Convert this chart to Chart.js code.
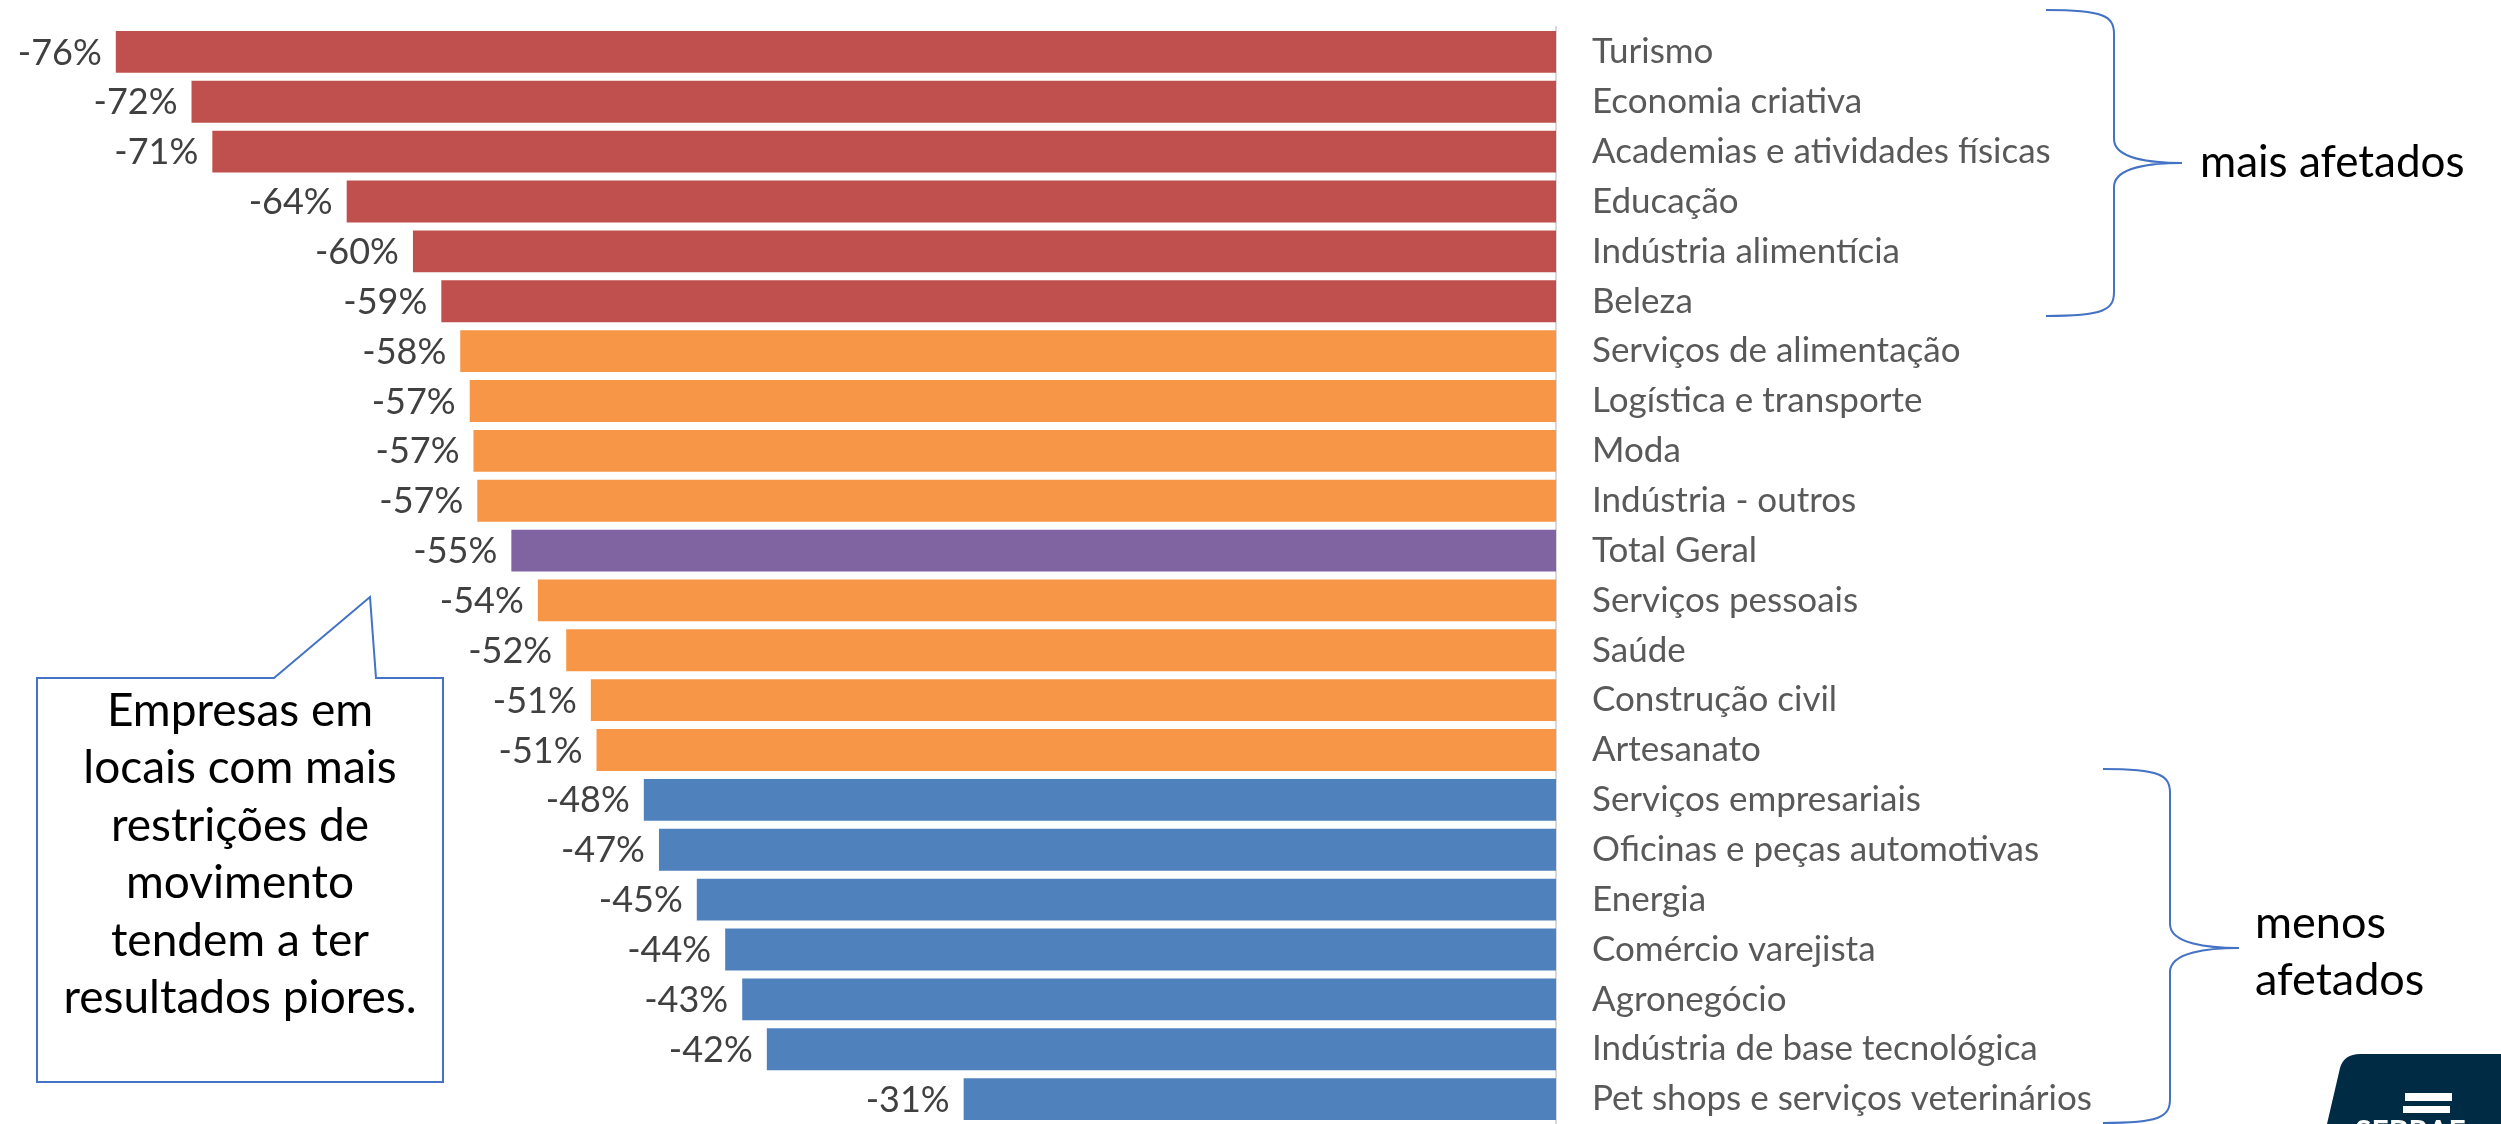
<!DOCTYPE html>
<html>
<head>
<meta charset="utf-8">
<title>Impacto por setor</title>
<script src="https://cdn.jsdelivr.net/npm/chart.js@4"></script>
<style>
  body { margin: 0; background: #fff; overflow: hidden; }
  canvas { display: block; }
</style>
</head>
<body>
<canvas id="chart" width="2501" height="1124"></canvas>
<script>
// Sectors, top to bottom
const setores = [
  'Turismo', 'Economia criativa', 'Academias e atividades físicas', 'Educação',
  'Indústria alimentícia', 'Beleza', 'Serviços de alimentação', 'Logística e transporte',
  'Moda', 'Indústria - outros', 'Total Geral', 'Serviços pessoais', 'Saúde',
  'Construção civil', 'Artesanato', 'Serviços empresariais', 'Oficinas e peças automotivas',
  'Energia', 'Comércio varejista', 'Agronegócio', 'Indústria de base tecnológica',
  'Pet shops e serviços veterinários'
];

// Variation in revenue (%)
const variacao = [
  -76.1, -72.1, -71.0, -63.9, -60.4, -58.9, -57.9, -57.4, -57.2, -57.0, -55.2,
  -53.8, -52.3, -51.0, -50.7, -48.2, -47.4, -45.4, -43.9, -43.0, -41.7, -31.3
];

// Group of each bar (drives the colour)
const grupos = [
  'mais', 'mais', 'mais', 'mais', 'mais', 'mais', 'medio', 'medio', 'medio', 'medio', 'total',
  'medio', 'medio', 'medio', 'medio', 'menos', 'menos', 'menos', 'menos', 'menos', 'menos', 'menos'
];

const coresGrupo = { mais: '#C0504D', medio: '#F79646', total: '#8064A2', menos: '#4F81BD' };

const textoCaixa = ['Empresas em', 'locais com mais', 'restrições de', 'movimento', 'tendem a ter', 'resultados piores.'];

const FONT = 'Lato, "Open Sans", sans-serif';

function drawBrace(ctx, xTip, xLine, xPoint, yTop, yMid, yBot) {
  const r = 24;
  ctx.beginPath();
  ctx.moveTo(xTip, yTop);
  ctx.bezierCurveTo(xLine - 10, yTop, xLine, yTop + 6, xLine, yTop + r);
  ctx.lineTo(xLine, yMid - r);
  ctx.bezierCurveTo(xLine, yMid - 4, xPoint - 30, yMid, xPoint, yMid);
  ctx.bezierCurveTo(xPoint - 30, yMid, xLine, yMid + 4, xLine, yMid + r);
  ctx.lineTo(xLine, yBot - r);
  ctx.bezierCurveTo(xLine, yBot - 6, xLine - 10, yBot, xTip, yBot);
  ctx.stroke();
}

// Value labels, braces and callout drawn on top of the bars
const anotacoes = {
  id: 'anotacoes',
  afterDraw(chart) {
    const ctx = chart.ctx;
    const meta = chart.getDatasetMeta(0);
    ctx.save();

    // value labels
    ctx.font = '36px ' + FONT;
    ctx.fillStyle = '#404040';
    ctx.textAlign = 'right';
    ctx.textBaseline = 'middle';
    meta.data.forEach((bar, i) => {
      ctx.fillText(Math.round(variacao[i]) + '%', bar.x - 14, bar.y + 1);
    });

    // braces
    ctx.strokeStyle = '#4472C4';
    ctx.lineWidth = 2;
    drawBrace(ctx, 2046, 2114, 2182, 10, 163, 316);
    drawBrace(ctx, 2103, 2170, 2239, 769, 948, 1123);

    ctx.fillStyle = '#000';
    ctx.textAlign = 'left';
    ctx.font = '44px ' + FONT;
    ctx.fillText('mais afetados', 2200, 163);
    ctx.font = '45px ' + FONT;
    ctx.fillText('menos', 2255, 923);
    ctx.fillText('afetados', 2255, 980);

    // callout box
    ctx.beginPath();
    ctx.moveTo(37, 678);
    ctx.lineTo(274, 678);
    ctx.lineTo(370, 597);
    ctx.lineTo(376, 678);
    ctx.lineTo(443, 678);
    ctx.lineTo(443, 1082);
    ctx.lineTo(37, 1082);
    ctx.closePath();
    ctx.fillStyle = '#fff';
    ctx.fill();
    ctx.stroke();

    ctx.fillStyle = '#000';
    ctx.textAlign = 'center';
    ctx.font = '46px ' + FONT;
    textoCaixa.forEach((linha, i) => {
      ctx.fillText(linha, 240, 711 + i * 57.5);
    });

    // logo corner
    ctx.fillStyle = '#002B45';
    ctx.beginPath();
    ctx.moveTo(2327, 1124);
    ctx.lineTo(2340, 1068);
    ctx.quadraticCurveTo(2344, 1054, 2360, 1054);
    ctx.lineTo(2501, 1054);
    ctx.lineTo(2501, 1124);
    ctx.closePath();
    ctx.fill();
    ctx.fillStyle = '#fff';
    ctx.fillRect(2405, 1093, 47, 8);
    ctx.fillRect(2403, 1106, 47, 7);
    ctx.font = 'bold 30px ' + FONT;
    ctx.textAlign = 'left';
    ctx.textBaseline = 'alphabetic';
    ctx.fillText('SEBRAE', 2355, 1142);

    ctx.restore();
  }
};

new Chart(document.getElementById('chart'), {
  type: 'bar',
  data: {
    labels: setores,
    datasets: [{
      data: variacao,
      backgroundColor: grupos.map(g => coresGrupo[g]),
      categoryPercentage: 1,
      barPercentage: 0.84
    }]
  },
  options: {
    indexAxis: 'y',
    responsive: false,
    animation: false,
    devicePixelRatio: 1,
    layout: { padding: { left: 42, top: 27, right: 0, bottom: -3 } },
    plugins: { legend: { display: false }, tooltip: { enabled: false } },
    scales: {
      x: { display: false, min: -80, max: 0 },
      y: {
        position: 'right',
        grid: { display: false, drawTicks: true, tickLength: 36 },
        border: { display: true, color: '#D9D9D9', width: 2 },
        ticks: {
          padding: 0,
          color: '#595959',
          font: { family: FONT, size: 35, lineHeight: 0 }
        },
        afterFit(scale) { scale.width = 945; }
      }
    }
  },
  plugins: [anotacoes]
});
</script>
</body>
</html>
